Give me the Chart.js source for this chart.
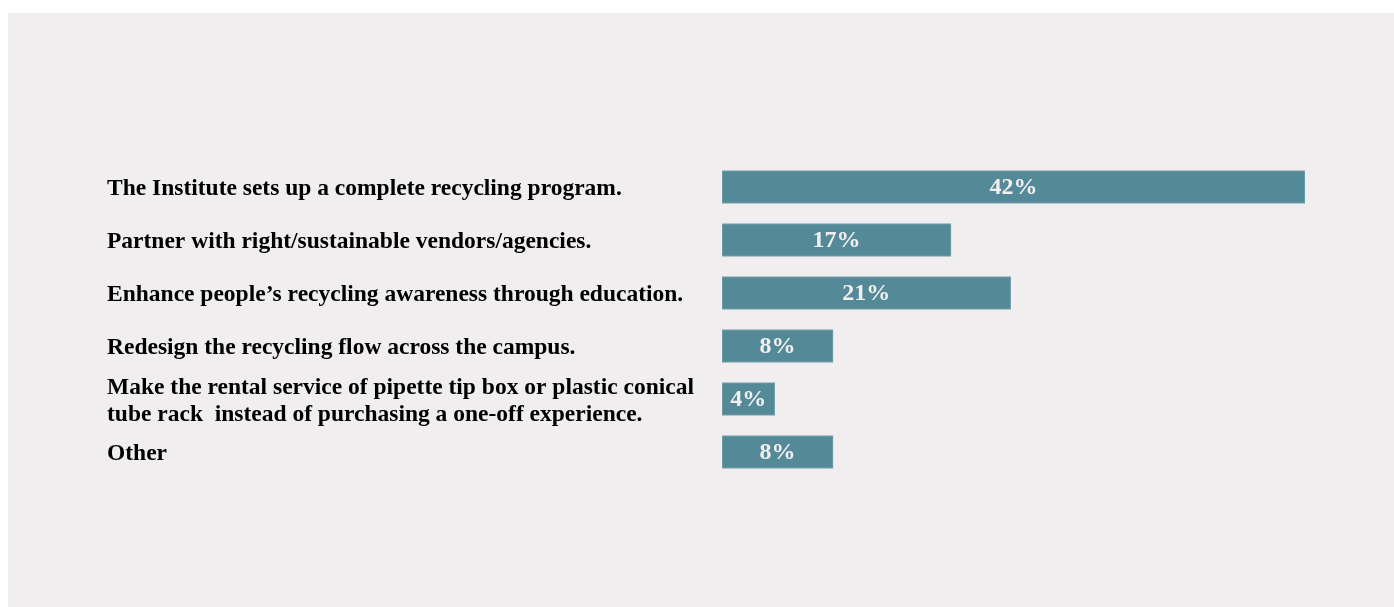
<!DOCTYPE html>
<html>
<head>
<meta charset="utf-8">
<script src="https://cdn.jsdelivr.net/npm/chart.js@4/dist/chart.umd.min.js"></script>
<style>
  html, body { margin: 0; padding: 0; background: #ffffff; }
  #panel { position: absolute; left: 8px; top: 13px; width: 1386px; height: 594px; background: #f0eeef; }
</style>
</head>
<body>
<div id="panel"><canvas id="bars"></canvas></div>
<script>
const categories = [
  "The Institute sets up a complete recycling program.",
  "Partner with right/sustainable vendors/agencies.",
  "Enhance people\u2019s recycling awareness through education.",
  "Redesign the recycling flow across the campus.",
  ["Make the rental service of pipette tip box or plastic conical", "tube rack  instead of purchasing a one-off experience."],
  "Other"
];
const shares = [42, 16.5, 20.8, 8, 3.8, 8];
const shareLabels = ["42%", "17%", "21%", "8%", "4%", "8%"];

document.addEventListener('DOMContentLoaded', function () {
  const valueText = {
    id: 'valueText',
    afterDatasetsDraw(chart) {
      const ctx = chart.ctx;
      const meta = chart.getDatasetMeta(0);
      ctx.save();
      ctx.font = 'bold 24px "Liberation Serif", "Times New Roman", serif';
      ctx.fillStyle = '#f2eff0';
      ctx.textAlign = 'center';
      ctx.textBaseline = 'middle';
      meta.data.forEach(function (bar, i) {
        ctx.fillText(shareLabels[i], (bar.x + bar.base) / 2, bar.y + 1);
      });
      ctx.restore();
    }
  };

  const config = {
    type: 'bar',
    data: {
      labels: categories,
      datasets: [{
        data: shares,
        backgroundColor: '#548998',
        borderColor: '#7aa3ae',
        borderWidth: 1,
        borderSkipped: false,
        barThickness: 33
      }]
    },
    options: {
      indexAxis: 'y',
      responsive: true,
      maintainAspectRatio: false,
      animation: false,
      layout: { padding: { left: 99, right: 89, top: 147.5, bottom: 128.5 } },
      plugins: {
        legend: { display: false },
        tooltip: { enabled: false }
      },
      scales: {
        x: { display: false, min: 0, max: 42 },
        y: {
          afterFit: function (axis) { axis.width = 615; },
          grid: { display: false },
          border: { display: false },
          ticks: {
            autoSkip: false,
            crossAlign: 'far',
            padding: 0,
            labelOffset: 2,
            color: '#000000',
            font: { family: '"Liberation Serif", "Times New Roman", serif', size: 23.5, weight: 'bold', lineHeight: 1.15 }
          }
        }
      }
    },
    plugins: [valueText]
  };

  new Chart(document.getElementById('bars'), config);
});
</script>
</body>
</html>
